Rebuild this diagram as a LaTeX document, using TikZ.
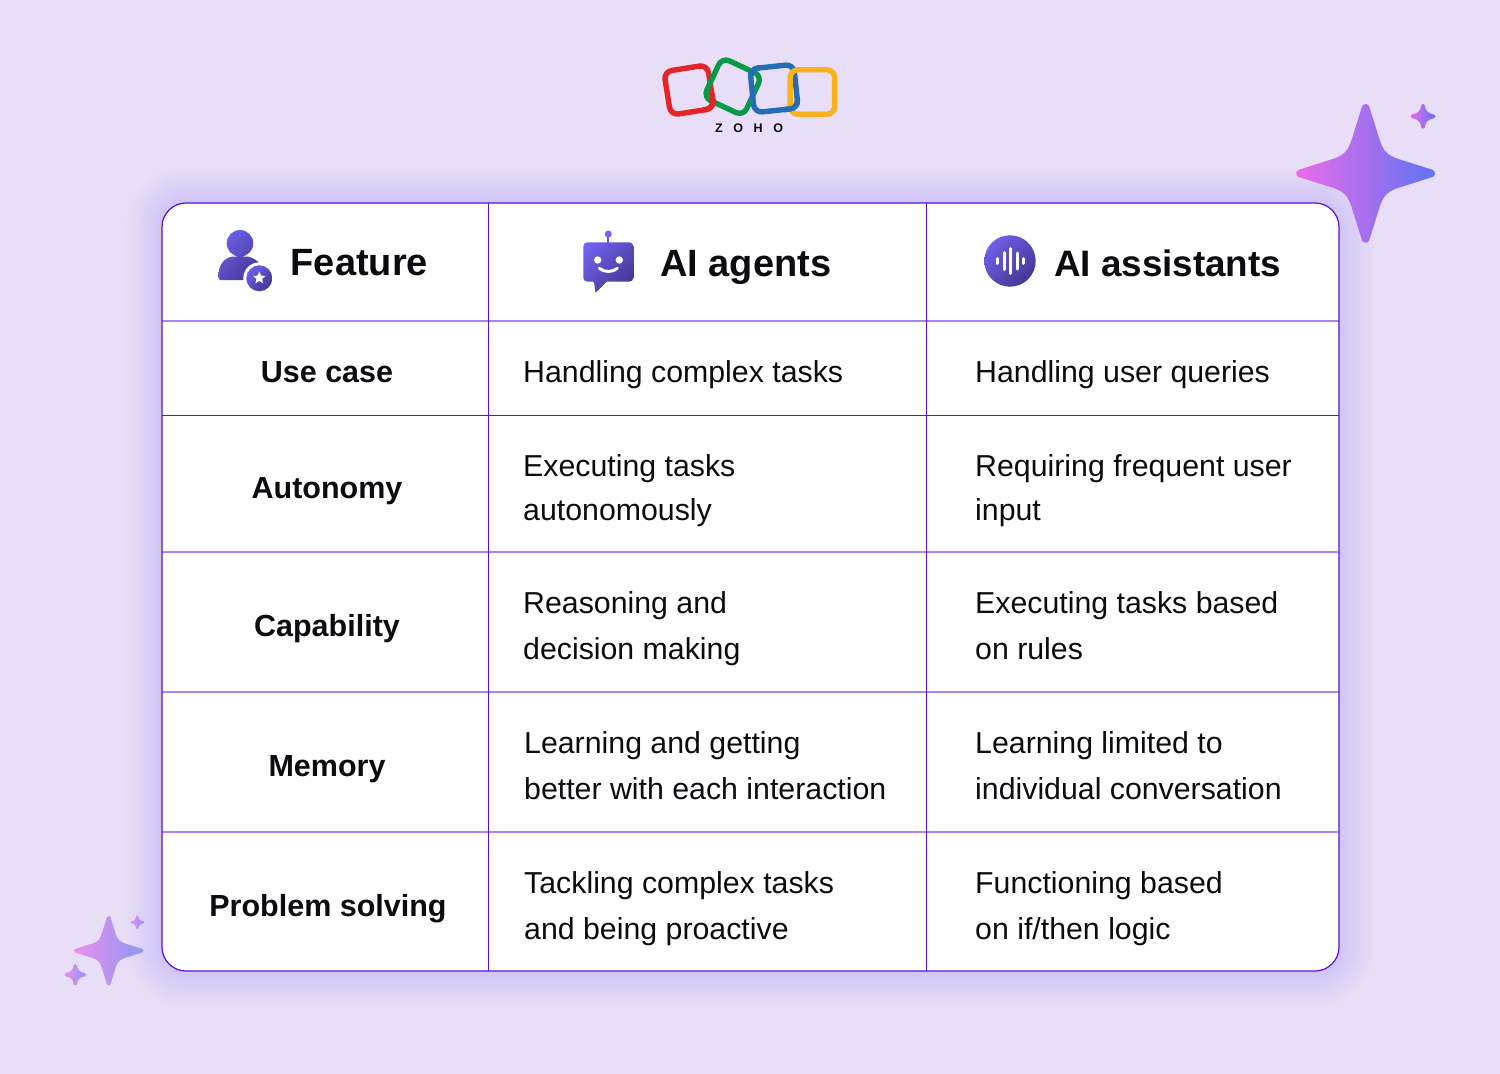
\documentclass[tikz,border=0pt]{standalone}
\usepackage{fontspec}
\usetikzlibrary{shadings,shapes.geometric}
\setmainfont{Liberation Sans}
\newfontfamily\logofont[LetterSpace=85]{Liberation Sans}
\definecolor{bgc}{HTML}{E8DEF8}
\definecolor{edgec}{HTML}{5A10DC}
\definecolor{linec}{HTML}{A884F4}
\definecolor{glowc}{HTML}{AE8AF6}
\definecolor{txtc}{HTML}{0C0C10}
\definecolor{gra}{HTML}{7367F8}
\definecolor{grb}{HTML}{5A4CC0}
\definecolor{grc}{HTML}{3D2E80}
\definecolor{zred}{HTML}{E42527}
\definecolor{zgreen}{HTML}{089949}
\definecolor{zblue}{HTML}{226DB4}
\definecolor{zyellow}{HTML}{F9B21D}
\newcommand{\starpath}{(-.05,-.96) .. controls (-.03,-1) and (.03,-1) .. (.05,-.96) -- (.2,-.48) .. controls (.25,-.33) and (.30,-.27) .. (.44,-.215) -- (.96,-.05) .. controls (1,-.03) and (1,.03) .. (.96,.05) -- (.44,.215) .. controls (.30,.27) and (.25,.33) .. (.2,.48) -- (.05,.96) .. controls (.03,1) and (-.03,1) .. (-.05,.96) -- (-.2,.48) .. controls (-.25,.33) and (-.30,.27) .. (-.44,.215) -- (-.96,.05) .. controls (-1,.03) and (-1,-.03) .. (-.96,-.05) -- (-.44,-.215) .. controls (-.30,-.27) and (-.25,-.33) .. (-.2,-.48) -- cycle}
\newcommand{\fatpath}{(-.15,-.86) .. controls (-.09,-1.03) and (.09,-1.03) .. (.15,-.86) .. controls (.2,-.5) and (.3,-.26) .. (.86,-.15) .. controls (1.03,-.09) and (1.03,.09) .. (.86,.15) .. controls (.3,.26) and (.2,.5) .. (.15,.86) .. controls (.09,1.03) and (-.09,1.03) .. (-.15,.86) .. controls (-.2,.5) and (-.3,.26) .. (-.86,.15) .. controls (-1.03,.09) and (-1.03,-.09) .. (-.86,-.15) .. controls (-.3,-.26) and (-.2,-.5) .. (-.15,-.86) -- cycle}
\newcommand{\sparkle}[4]{\begin{scope}[shift={(#1,#2)},scale=#3]\shade[#4] \starpath;\end{scope}}
\newcommand{\fatsparkle}[4]{\begin{scope}[shift={(#1,#2)},scale=#3]\shade[#4] \fatpath;\end{scope}}
\tikzset{
  x=1pt,y=-1pt,
  strongstar/.style={left color=F-pink,middle color=F-mid,right color=F-blue},
  softstar/.style={left color=S-pink,middle color=S-mid,right color=S-blue},
  bodytext/.style={anchor=base west,inner sep=0pt,font=\fontsize{30.3}{45.5}\selectfont,text=txtc,align=left},
  rowhead/.style={anchor=base,inner sep=0pt,font=\fontsize{30.5}{45}\selectfont\bfseries,text=txtc},
  colhead/.style={anchor=base west,inner sep=0pt,font=\fontsize{38}{45}\selectfont\bfseries,text=txtc},
  gridlight/.style={draw=linec,line width=1.7pt},
  griddark/.style={draw=edgec,line width=.9pt},
  iconfill/.style={upper left=gra,upper right=grb,lower left=grb,lower right=grc},
  logobox/.style={draw,line width=5.4pt,rounded corners=8pt,inner sep=0pt},
}
\definecolor{F-pink}{HTML}{EC6BEA}
\definecolor{F-mid}{HTML}{A86BE8}
\definecolor{F-blue}{HTML}{5E74F2}
\definecolor{S-pink}{HTML}{EA90EE}
\definecolor{S-mid}{HTML}{BC8CEE}
\definecolor{S-blue}{HTML}{8C98F2}
\begin{document}
\begin{tikzpicture}
\useasboundingbox (0,0) rectangle (1500,1074);
\fill[bgc] (0,0) rectangle (1500,1074);
% glow
\foreach \w in {3,6,...,72}{
  \draw[glowc,line width=\w pt,draw opacity=.012,rounded corners=24pt] (162,203) rectangle (1339,971);
}
% sparkles
\sparkle{1365.6}{173.4}{70}{strongstar}
\fatsparkle{1423}{116.3}{12.7}{strongstar}
\sparkle{108.7}{950.7}{35}{softstar}
\fatsparkle{75.3}{974.7}{11}{softstar}
\fatsparkle{137.3}{922.3}{7}{softstar}
% logo
\node[logobox,draw=zred,minimum size=44pt,rotate=9] (lr) at (689,90) {};
\node[logobox,draw=zgreen,minimum size=44pt,rotate=-25] (lg) at (732.7,86.7) {};
\node[logobox,draw=zblue,minimum size=44pt,rotate=6] (lb) at (774,88.5) {};
\node[logobox,draw=zyellow,minimum size=44.5pt] (ly) at (812.4,92) {};
\begin{scope}
  \clip (704,93) rectangle (724,114);
  \node[logobox,draw=zred,minimum size=44pt,rotate=9] (lrb) at (689,90) {};
\end{scope}
\begin{scope}
  \clip (744,62) rectangle (760,78);
  \node[logobox,draw=zblue,minimum size=44pt,rotate=6] (lbb) at (774,88.5) {};
\end{scope}
\begin{scope}
  \clip (784,100) rectangle (802,118);
  \node[logobox,draw=zblue,minimum size=44pt,rotate=6] (lbc) at (774,88.5) {};
\end{scope}
\node[inner sep=0pt,text=txtc,font=\logofont\fontsize{12.5}{12.5}\selectfont\bfseries] (lt) at (749,128) {ZOHO};
% table
\fill[white,rounded corners=24pt] (162,203) rectangle (1339,971);
\draw[gridlight] (162,321) -- (1339,321);
\draw[griddark] (162,415.5) -- (1339,415.5);
\draw[gridlight] (162,552) -- (1339,552);
\draw[gridlight] (162,692) -- (1339,692);
\draw[gridlight] (162,832) -- (1339,832);
\draw[griddark] (488.5,203) -- (488.5,971);
\draw[griddark] (926.5,203) -- (926.5,971);
\draw[edgec,line width=1.2pt,rounded corners=24pt] (162,203) rectangle (1339,971);
% feature icon
\shade[iconfill] (240,243.3) circle (13.3) (218.3,277) .. controls (218.3,265) and (224,258) .. (232,256.6) -- (248,256.6) .. controls (254,258) and (258,261) .. (262,266) -- (262,280) -- (221,280) .. controls (219,280) and (218.3,279) .. (218.3,277) -- cycle;
\fill[white] (259.3,278.3) circle (16);
\shade[iconfill] (259.3,278.3) circle (13);
\node[inner sep=0pt,fill=white,star,star points=5,star point ratio=2.2,minimum size=13pt] (fs) at (259.3,278) {};
% robot icon
\draw[grb!60!gra,line width=2pt] (608.3,234) -- (608.3,243);
\fill[gra] (608.3,234) circle (3.5);
\shade[iconfill,rounded corners=4pt] (583.3,242.3) -- (633.3,242.3) -- (633.3,281.7) [sharp corners] -- (606.7,281.7) [rounded corners=1pt] -- (595.5,293) -- (594,281.7) [rounded corners=4pt] -- (583.3,281.7) -- cycle;
\fill[white] (597.7,260) circle (3.7);
\fill[white] (619.3,260) circle (3.7);
\draw[white,line width=3pt,line cap=round] (599.3,268.3) .. controls (604,272.5) and (613,272.5) .. (617.3,268.3);
% assistant icon
\shade[iconfill] (1010,261) circle (25.7);
\foreach \xx/\hh in {997.7/2.5,1004/8.5,1010.3/12.5,1017/8,1023.3/2.5}{
  \draw[white,line width=3pt,line cap=round] (\xx,261-\hh) -- (\xx,261+\hh);
}
% headers
\node[colhead] (h1) at (290.5,275) {Feature};
\node[colhead] (h2) at (660,276) {AI agents};
\node[colhead,font=\fontsize{36.8}{45}\selectfont\bfseries] (h3) at (1054,276) {AI assistants};
% first column
\node[rowhead] (r1) at (327,382) {Use case};
\node[rowhead] (r2) at (327,498) {Autonomy};
\node[rowhead] (r3) at (327,636) {Capability};
\node[rowhead] (r4) at (327,776) {Memory};
\node[rowhead] (r5) at (328,916) {Problem solving};
% cells
\node[bodytext] (a1) at (523,382) {Handling complex tasks};
\node[bodytext] (a2) at (523,520) {Executing tasks\\[-1.5pt]autonomously};
\node[bodytext] (a3) at (523,659) {Reasoning and\\decision making};
\node[bodytext] (a4) at (524,799) {Learning and getting\\better with each interaction};
\node[bodytext] (a5) at (524,939) {Tackling complex tasks\\and being proactive};
\node[bodytext] (b1) at (975,382) {Handling user queries};
\node[bodytext] (b2) at (975,520) {Requiring frequent user\\[-1.5pt]input};
\node[bodytext] (b3) at (975,659) {Executing tasks based\\on rules};
\node[bodytext] (b4) at (975,799) {Learning limited to\\individual conversation};
\node[bodytext] (b5) at (975,939) {Functioning based\\on if/then logic};
\end{tikzpicture}
\end{document}
